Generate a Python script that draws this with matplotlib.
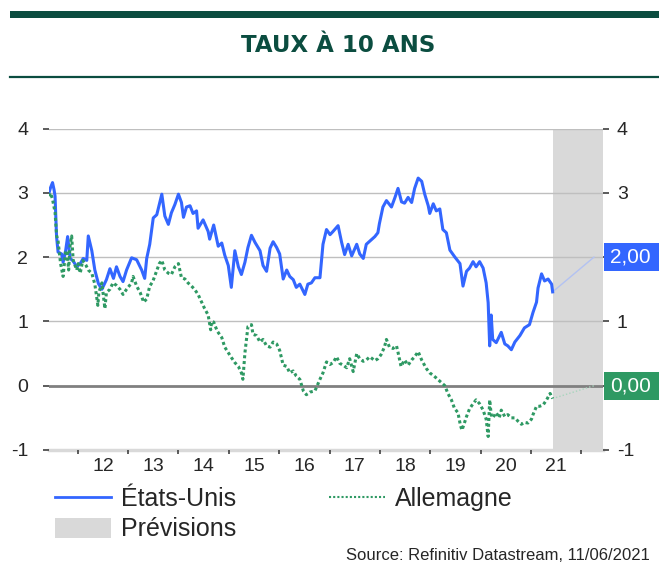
import matplotlib
matplotlib.use("Agg")
import matplotlib.pyplot as plt
import matplotlib.transforms as mtransforms
from matplotlib.lines import Line2D
from matplotlib.patches import Patch, Rectangle

plt.rcParams['font.family'] = ['Liberation Sans', 'DejaVu Sans']
plt.rcParams['axes.unicode_minus'] = False

# --- data (decimal years, % yield) ---
us_t = [2011.43, 2011.46, 2011.50, 2011.53, 2011.55, 2011.58, 2011.61, 2011.68, 2011.71, 2011.76,
        2011.80, 2011.85, 2011.91, 2011.98, 2012.05, 2012.11, 2012.18, 2012.21, 2012.28, 2012.34,
        2012.41, 2012.48, 2012.57, 2012.64, 2012.71, 2012.77, 2012.84, 2012.90, 2012.97, 2013.07,
        2013.17, 2013.27, 2013.33, 2013.37, 2013.43, 2013.50, 2013.57, 2013.63, 2013.67, 2013.73,
        2013.80, 2013.86, 2013.93, 2014.00, 2014.06, 2014.10, 2014.16, 2014.23, 2014.29, 2014.36,
        2014.39, 2014.49, 2014.59, 2014.62, 2014.70, 2014.79, 2014.86, 2014.92, 2014.99, 2015.05,
        2015.12, 2015.19, 2015.25, 2015.32, 2015.38, 2015.45, 2015.52, 2015.62, 2015.68, 2015.75,
        2015.82, 2015.88, 2015.95, 2016.01, 2016.08, 2016.15, 2016.21, 2016.28, 2016.34, 2016.41,
        2016.51, 2016.57, 2016.64, 2016.71, 2016.81, 2016.87, 2016.94, 2017.01, 2017.07, 2017.17,
        2017.24, 2017.30, 2017.37, 2017.44, 2017.54, 2017.60, 2017.67, 2017.73, 2017.80, 2017.90,
        2017.96, 2017.99, 2018.06, 2018.13, 2018.23, 2018.30, 2018.36, 2018.43, 2018.49, 2018.56,
        2018.63, 2018.69, 2018.76, 2018.83, 2018.89, 2018.96, 2018.99, 2019.06, 2019.12, 2019.19,
        2019.25, 2019.32, 2019.39, 2019.49, 2019.59, 2019.65, 2019.72, 2019.78, 2019.85, 2019.91,
        2019.98, 2020.05, 2020.11, 2020.15, 2020.18, 2020.21, 2020.24, 2020.31, 2020.41, 2020.48,
        2020.54, 2020.61, 2020.68, 2020.78, 2020.87, 2020.97, 2021.04, 2021.11, 2021.14, 2021.21,
        2021.27, 2021.34, 2021.41, 2021.43]
us_v = [3.00, 3.08, 3.16, 3.05, 2.95, 2.32, 2.08, 2.05, 1.92, 2.10,
        2.32, 1.98, 1.94, 1.85, 1.90, 1.98, 1.95, 2.33, 2.10, 1.80,
        1.59, 1.50, 1.65, 1.82, 1.67, 1.85, 1.70, 1.62, 1.80, 1.99,
        1.96, 1.80, 1.67, 1.98, 2.20, 2.61, 2.66, 2.85, 2.98, 2.64,
        2.51, 2.69, 2.82, 2.98, 2.85, 2.62, 2.78, 2.80, 2.68, 2.72,
        2.45, 2.58, 2.40, 2.28, 2.50, 2.17, 2.22, 2.03, 1.87, 1.53,
        2.10, 1.85, 1.73, 1.92, 2.15, 2.34, 2.23, 2.10, 1.87, 1.78,
        2.14, 2.24, 2.15, 2.05, 1.66, 1.80, 1.70, 1.65, 1.53, 1.58,
        1.42, 1.58, 1.60, 1.68, 1.68, 2.20, 2.43, 2.35, 2.40, 2.49,
        2.23, 2.04, 2.20, 2.02, 2.20, 2.05, 1.98, 2.20, 2.25, 2.32,
        2.38, 2.52, 2.78, 2.88, 2.78, 2.93, 3.07, 2.86, 2.84, 2.93,
        2.85, 3.07, 3.23, 3.18, 2.98, 2.80, 2.68, 2.83, 2.72, 2.75,
        2.43, 2.38, 2.11, 2.00, 1.90, 1.55, 1.78, 1.83, 1.93, 1.85,
        1.93, 1.83, 1.60, 1.29, 0.62, 1.10, 0.72, 0.67, 0.83, 0.65,
        0.62, 0.56, 0.68, 0.78, 0.90, 0.95, 1.14, 1.30, 1.52, 1.74,
        1.63, 1.66, 1.58, 1.46]

de_t = [2011.43, 2011.46, 2011.50, 2011.55, 2011.58, 2011.61, 2011.66, 2011.71, 2011.76, 2011.79,
        2011.82, 2011.85, 2011.88, 2011.91, 2011.98, 2012.01, 2012.05, 2012.10, 2012.16, 2012.21,
        2012.28, 2012.34, 2012.40, 2012.42, 2012.48, 2012.54, 2012.57, 2012.64, 2012.70, 2012.77,
        2012.84, 2012.90, 2012.97, 2013.07, 2013.10, 2013.17, 2013.24, 2013.31, 2013.37, 2013.43,
        2013.49, 2013.55, 2013.62, 2013.67, 2013.73, 2013.80, 2013.86, 2013.93, 2014.00, 2014.06,
        2014.13, 2014.19, 2014.26, 2014.32, 2014.39, 2014.46, 2014.52, 2014.59, 2014.64, 2014.66,
        2014.70, 2014.77, 2014.86, 2014.92, 2015.05, 2015.12, 2015.19, 2015.25, 2015.28, 2015.32,
        2015.38, 2015.45, 2015.48, 2015.55, 2015.62, 2015.68, 2015.75, 2015.82, 2015.88, 2015.95,
        2016.01, 2016.08, 2016.15, 2016.21, 2016.28, 2016.34, 2016.41, 2016.48, 2016.54, 2016.61,
        2016.71, 2016.81, 2016.87, 2016.94, 2017.01, 2017.07, 2017.14, 2017.20, 2017.27, 2017.34,
        2017.40, 2017.47, 2017.54, 2017.60, 2017.67, 2017.73, 2017.80, 2017.90, 2017.96, 2018.02,
        2018.09, 2018.13, 2018.19, 2018.26, 2018.33, 2018.36, 2018.42, 2018.49, 2018.56, 2018.63,
        2018.69, 2018.76, 2018.83, 2018.92, 2018.99, 2019.06, 2019.12, 2019.22, 2019.29, 2019.35,
        2019.42, 2019.48, 2019.55, 2019.60, 2019.63, 2019.67, 2019.72, 2019.78, 2019.85, 2019.91,
        2019.98, 2020.05, 2020.11, 2020.15, 2020.18, 2020.21, 2020.24, 2020.31, 2020.37, 2020.41,
        2020.48, 2020.54, 2020.61, 2020.68, 2020.74, 2020.81, 2020.87, 2020.94, 2021.01, 2021.04,
        2021.11, 2021.17, 2021.24, 2021.31, 2021.38, 2021.43]
de_v = [2.95, 3.00, 2.90, 2.70, 2.34, 2.25, 1.90, 1.70, 2.10, 2.08,
        1.80, 2.20, 2.33, 1.95, 1.80, 1.90, 1.75, 1.95, 1.88, 1.80,
        1.75, 1.58, 1.25, 1.45, 1.60, 1.20, 1.45, 1.50, 1.60, 1.56,
        1.50, 1.42, 1.50, 1.60, 1.70, 1.55, 1.45, 1.30, 1.35, 1.55,
        1.62, 1.75, 1.90, 1.95, 1.80, 1.75, 1.73, 1.85, 1.90, 1.68,
        1.66, 1.60, 1.55, 1.50, 1.42, 1.30, 1.20, 1.10, 0.87, 1.00,
        0.99, 0.85, 0.75, 0.60, 0.44, 0.36, 0.30, 0.20, 0.10, 0.51,
        0.92, 0.95, 0.80, 0.78, 0.68, 0.72, 0.62, 0.60, 0.68, 0.65,
        0.55, 0.32, 0.30, 0.20, 0.23, 0.15, 0.10, -0.08, -0.14, -0.10,
        -0.08, 0.10, 0.20, 0.37, 0.33, 0.36, 0.45, 0.35, 0.32, 0.28,
        0.42, 0.22, 0.50, 0.42, 0.38, 0.40, 0.45, 0.39, 0.42, 0.48,
        0.60, 0.72, 0.60, 0.58, 0.62, 0.52, 0.30, 0.40, 0.32, 0.40,
        0.45, 0.53, 0.40, 0.27, 0.20, 0.16, 0.12, 0.05, 0.00, -0.12,
        -0.22, -0.35, -0.42, -0.62, -0.69, -0.60, -0.48, -0.36, -0.28, -0.22,
        -0.28, -0.38, -0.52, -0.79, -0.22, -0.45, -0.50, -0.42, -0.50, -0.38,
        -0.48, -0.45, -0.50, -0.50, -0.55, -0.60, -0.57, -0.58, -0.52, -0.45,
        -0.32, -0.32, -0.30, -0.22, -0.12, -0.20]

fc_date = 2022.25
us_target = 2.00
de_target = 0.00
fc_span = (2021.43, 2022.43)
year_labels = ['12', '13', '14', '15', '16', '17', '18', '19', '20', '21']
year_starts = list(range(2012, 2023))

BLUE = '#3366ff'
GREEN = '#2e9963'
DARK = '#0b4d40'
TXT = '#262626'

W, H = 659, 564
fig = plt.figure(figsize=(W / 100, H / 100), dpi=100)
ax = fig.add_axes([49 / W, 1 - 450 / H, 554 / W, 321.4 / H])

# header
fig.add_artist(Rectangle((10 / W, 1 - 18 / H), 649 / W, 7 / H, transform=fig.transFigure,
                         facecolor=DARK, edgecolor='none'))
fig.add_artist(Line2D([10 / W, 1], [1 - 76.5 / H] * 2, transform=fig.transFigure, color=DARK, lw=1.6))
fig.text(338 / W, 1 - 46 / H, 'TAUX À 10 ANS', ha='center', va='center', color=DARK,
         fontsize=16.5, fontweight='bold', family=['DejaVu Sans'])

# plot
ax.axvspan(*fc_span, color='#d9d9d9', lw=0, zorder=0)
for y in [1, 2, 3, 4]:
    ax.axhline(y, color='#bfbfbf', lw=1, zorder=1)
ax.axhline(-1, color='#d9d9d9', lw=2.5, zorder=1, clip_on=False)
ax.axhline(0, color='#808080', lw=2, zorder=1)

ax.plot(us_t, us_v, color=BLUE, lw=2.2, zorder=3)
ax.plot(de_t, de_v, color=GREEN, lw=2.2, ls=(0, (1, 0.9)), zorder=3)
ax.plot([us_t[-1], fc_date], [us_v[-1], us_target], color='#b3c2f2', lw=1, zorder=2)
ax.plot([de_t[-1], fc_date], [de_v[-1], de_target], color='#a8d5bd', lw=1, ls=(0, (1, 1.5)), zorder=2)

ax.set_xlim(2011.43, 2022.43)
ax.set_ylim(-1, 4)
for s in ax.spines.values():
    s.set_visible(False)

ax.set_xticks(year_starts)
ax.set_xticklabels([])
ax.set_xticks([y + 0.5 for y in year_starts[:-1]], minor=True)
ax.set_xticklabels(year_labels, minor=True)
ax.tick_params(axis='x', which='major', length=3, width=1.2, color='#404040', direction='out')
ax.tick_params(axis='x', which='minor', length=0, labelsize=14, pad=6, labelcolor=TXT)

ax.set_yticks([-1, 0, 1, 2, 3, 4])
ax.tick_params(axis='y', length=4, width=1.2, color='#404040', labelsize=14, pad=11,
               labelcolor=TXT)
ax2 = ax.twinx()
ax2.set_ylim(-1, 4)
ax2.set_yticks([-1, 1, 3, 4])
ax2.set_yticks([0, 2], minor=True)
ax2.tick_params(axis='y', which='both', length=4, width=1.2, color='#404040', labelsize=14, pad=6,
                labelcolor=TXT)
for s in ax2.spines.values():
    s.set_visible(False)

# value boxes on the right
trans = mtransforms.blended_transform_factory(ax.transAxes, ax.transData)
for val, col in [(us_target, BLUE), (de_target, GREEN)]:
    ax2.add_patch(Rectangle((1.002, val - 0.22), 0.1, 0.44, transform=trans, facecolor=col,
                            edgecolor='none', clip_on=False, zorder=10))
    ax2.text(1.05, val, f'{val:.2f}'.replace('.', ','), transform=trans, ha='center', va='center',
             color='white', fontsize=15, zorder=11, clip_on=False)

# legend
handles = [Line2D([], [], color=BLUE, lw=2),
           Patch(facecolor='#d9d9d9', edgecolor='none'),
           Line2D([], [], color=GREEN, lw=1.5, ls=(0, (1, 1)))]
labels = ['États-Unis', 'Prévisions', 'Allemagne']
fig.legend(handles, labels, loc='upper left', bbox_to_anchor=(55 / W, 1 - 487 / H), ncol=2,
           frameon=False, fontsize=18, handlelength=2.25, handleheight=0.85, handletextpad=0.4,
           columnspacing=3.7, labelspacing=0.25, borderpad=0, borderaxespad=0,
           labelcolor=TXT)

fig.text(650 / W, 1 - 556 / H, 'Source: Refinitiv Datastream, 11/06/2021', ha='right', va='center',
         fontsize=12, color=TXT)

fig.savefig('out.png', dpi=100)
